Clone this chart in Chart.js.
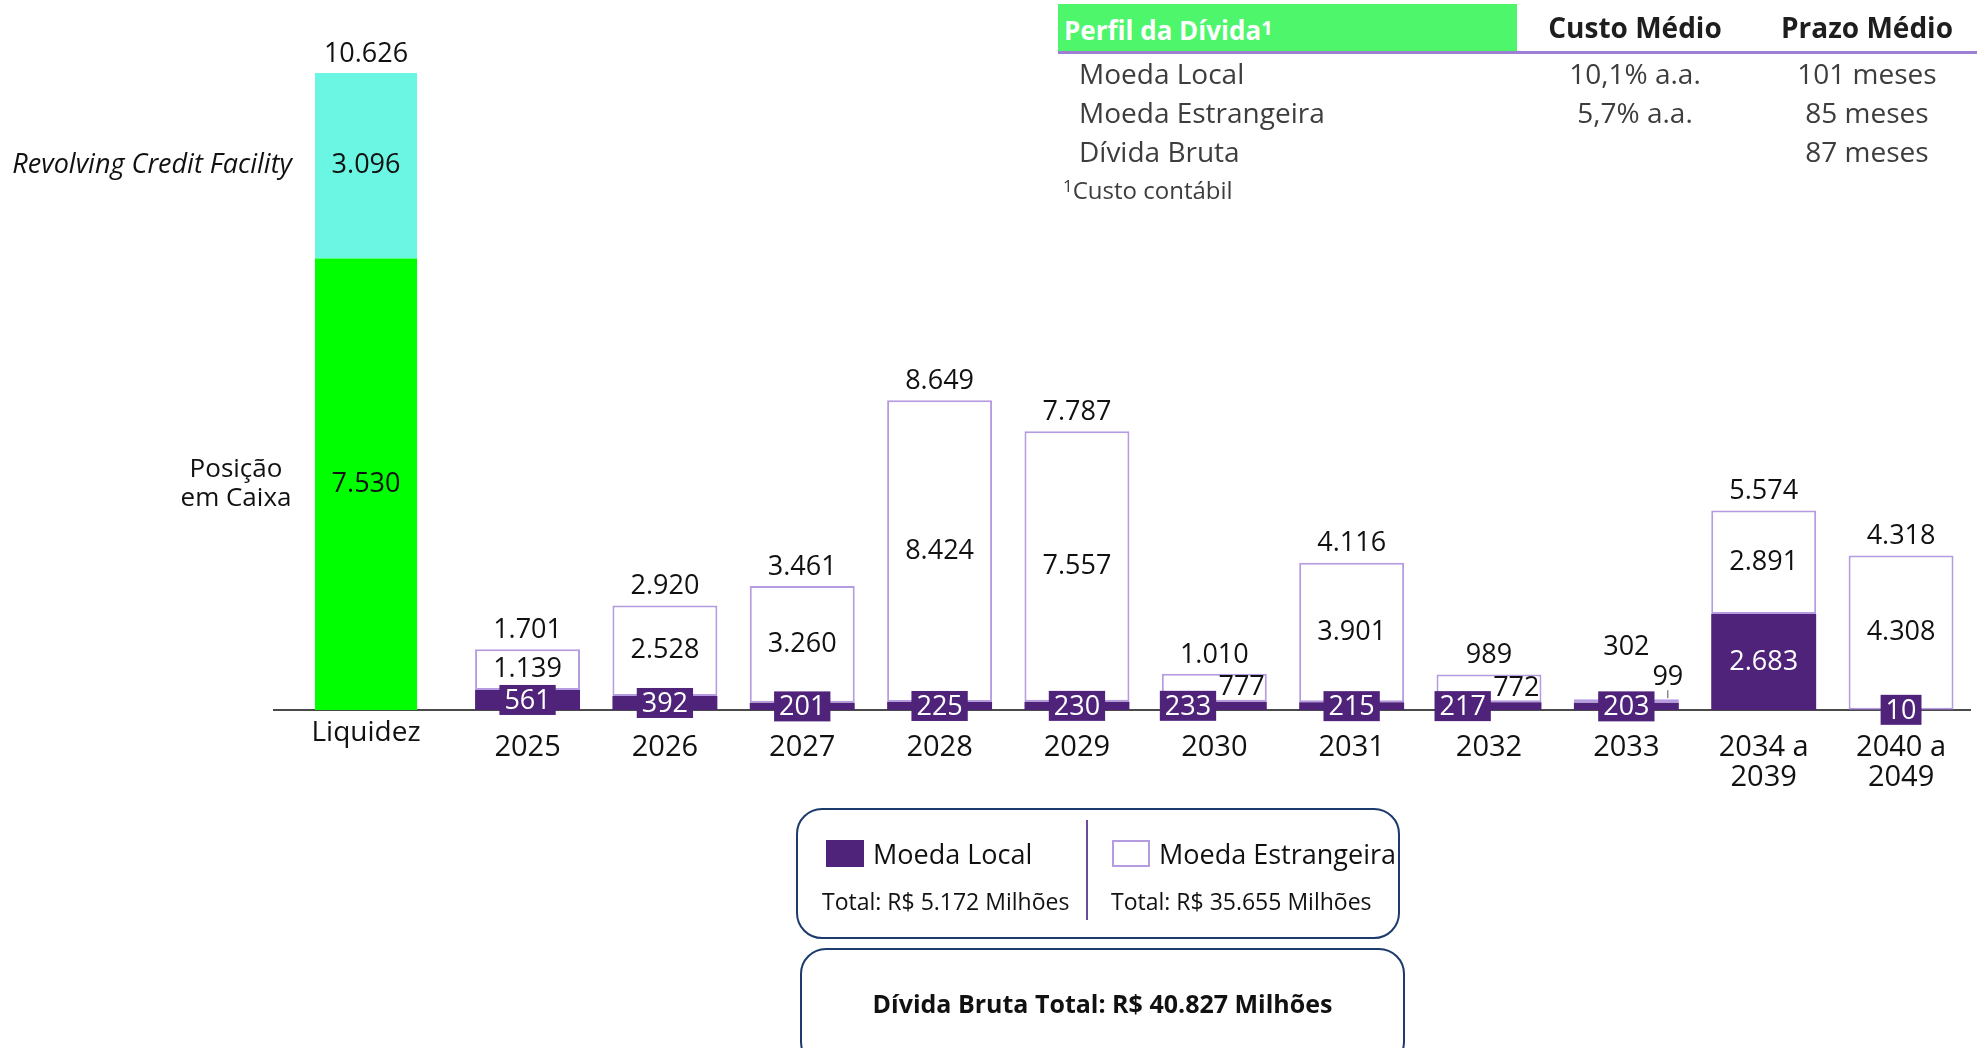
<!DOCTYPE html>
<html lang="pt-BR">
<head>
<meta charset="utf-8">
<title>Perfil da Dívida</title>
<script src="https://cdn.jsdelivr.net/npm/chart.js@4.4.1/dist/chart.umd.min.js"></script>
<style>
  html, body { margin: 0; padding: 0; background: #fff; }
  body { width: 1977px; height: 1048px; position: relative; overflow: hidden;
         font-family: "Open Sans", "Noto Sans", sans-serif; color: #111; }
  #chart { position: absolute; left: 0; top: 0; }
  .abs { position: absolute; white-space: nowrap; }
  .hdr { font-weight: 700; font-size: 28px; line-height: 47px; height: 47px; }
  .row { font-size: 28px; color: #3d3d3d; height: 38px; line-height: 38px; }
  .box { border: 2.5px solid #1c3a6c; border-radius: 26px; box-sizing: border-box; }
</style>
</head>
<body>
<canvas id="chart" width="1977" height="1048"></canvas>
<div id="overlay"></div>
<script>
// ---- data (R$ milhões) ----
const CATEGORY_LABELS = [["2025"], ["2026"], ["2027"], ["2028"], ["2029"], ["2030"],
  ["2031"], ["2032"], ["2033"], ["2034 a", "2039"], ["2040 a", "2049"]];
const LOCAL_CURRENCY   = [561, 392, 201, 225, 230, 233, 215, 217, 203, 2683, 10];
const FOREIGN_CURRENCY = [1139, 2528, 3260, 8424, 7557, 777, 3901, 772, 99, 2891, 4308];
const YEAR_TOTALS      = [1701, 2920, 3461, 8649, 7787, 1010, 4116, 989, 302, 5574, 4318];

const LIQUIDITY_LABEL = "Liquidez";
const CASH_POSITION = 7530;
const REVOLVING_CREDIT = 3096;
const LIQUIDITY_TOTAL = 10626;

const PROFILE_ROWS = ["Moeda Local", "Moeda Estrangeira", "Dívida Bruta"];
const AVG_COST = ["10,1% a.a.", "5,7% a.a.", ""];
const AVG_TERM = ["101 meses", "85 meses", "87 meses"];

const LOCAL_TOTAL = 5172;
const FOREIGN_TOTAL = 35655;
const GROSS_TOTAL = 40827;

// ---- look ----
const PURPLE = "#4f237a";
const LAVENDER = "#b59be0";
const GREEN = "#00ff00";
const CYAN = "#6af6e2";
const INK = "#111";
const VALUE_FONT = "27px 'Open Sans', 'Noto Sans', sans-serif";
const LIQ_X = -1.176; // liquidity column sits a bit further left than the year spacing

const fmt = v => String(v).replace(/\B(?=(\d{3})+(?!\d))/g, ".");

// ---- HTML table + legend boxes ----
(function buildOverlay() {
  const o = document.getElementById("overlay");
  const add = (html, css, cls) => {
    const d = document.createElement("div");
    d.className = "abs " + (cls || "");
    d.style.cssText = css;
    d.innerHTML = html;
    o.appendChild(d);
    return d;
  };
  add("Perfil da Dívida<span style='font-size:20px;vertical-align:5px'>1</span>",
      "left:1058px;top:4px;width:453px;padding-left:6px;background:#4df66b;color:#fff;font-size:26px;", "hdr");
  add("", "left:1058px;top:51px;width:919px;height:3px;background:#9d7fd3;");
  add("Custo Médio", "left:1515px;top:4px;width:240px;text-align:center;color:#1e1e1e;", "hdr");
  add("Prazo Médio", "left:1747px;top:4px;width:240px;text-align:center;color:#1e1e1e;", "hdr");
  PROFILE_ROWS.forEach((name, i) => {
    const top = 54 + i * 39;
    add(name, `left:1079px;top:${top}px;`, "row");
    add(AVG_COST[i], `left:1515px;top:${top}px;width:240px;text-align:center;`, "row");
    add(AVG_TERM[i], `left:1747px;top:${top}px;width:240px;text-align:center;`, "row");
  });
  add("<span style='font-size:17px;vertical-align:7px'>1</span>Custo contábil", "left:1063px;top:167px;font-size:24px;", "row");

  const leg = add("", "left:796px;top:808px;width:604px;height:131px;", "box");
  leg.innerHTML = `
    <div class="abs" style="left:28px;top:30px;width:38px;height:27px;background:${PURPLE}"></div>
    <div class="abs" style="left:75px;top:26px;font-size:27px;line-height:36px;">Moeda Local</div>
    <div class="abs" style="left:24px;top:76px;font-size:23px;line-height:30px;">Total: R$ ${fmt(LOCAL_TOTAL)} Milhões</div>
    <div class="abs" style="left:288px;top:10px;width:2px;height:100px;background:#6b4b9c"></div>
    <div class="abs" style="left:314px;top:30px;width:38px;height:27px;box-sizing:border-box;border:2px solid ${LAVENDER}"></div>
    <div class="abs" style="left:361px;top:26px;font-size:27px;line-height:36px;">Moeda Estrangeira</div>
    <div class="abs" style="left:313px;top:76px;font-size:23px;line-height:30px;">Total: R$ ${fmt(FOREIGN_TOTAL)} Milhões</div>`;
  const tot = add("", "left:800px;top:948px;width:605px;height:120px;", "box");
  tot.innerHTML = `<div class="abs" style="left:0;width:100%;top:35px;text-align:center;font-weight:700;font-size:25px;line-height:36px;">Dívida Bruta Total: R$ ${fmt(GROSS_TOTAL)} Milhões</div>`;
})();

// ---- value labels, side captions ----
const labelPlugin = {
  id: "barLabels",
  afterDatasetsDraw(chart) {
    const ctx = chart.ctx;
    const cash = chart.getDatasetMeta(0).data[0];
    const rcf = chart.getDatasetMeta(1).data[0];
    const local = chart.getDatasetMeta(2).data;
    const foreign = chart.getDatasetMeta(3).data;
    ctx.save();
    ctx.textAlign = "center";
    ctx.textBaseline = "middle";
    ctx.font = VALUE_FONT;
    ctx.fillStyle = INK;

    // liquidity column
    ctx.fillText(fmt(CASH_POSITION), cash.x, (cash.y + cash.base) / 2);
    ctx.fillText(fmt(REVOLVING_CREDIT), rcf.x, (rcf.y + rcf.base) / 2);
    ctx.fillText(fmt(LIQUIDITY_TOTAL), rcf.x, rcf.y - 19);
    ctx.font = "28px 'Open Sans', sans-serif";
    ctx.fillText(LIQUIDITY_LABEL, cash.x, cash.base + 23);
    const left = cash.x - cash.width / 2;
    ctx.font = "italic 27px 'Open Sans', sans-serif";
    ctx.textAlign = "right";
    ctx.fillText("Revolving Credit Facility", left - 23, (rcf.y + rcf.base) / 2);
    ctx.font = "26px 'Open Sans', sans-serif";
    ctx.textAlign = "center";
    const mid = (cash.y + cash.base) / 2;
    ctx.fillText("Posição", left - 79, mid - 15);
    ctx.fillText("em Caixa", left - 79, mid + 14);

    // debt maturity columns
    ctx.font = VALUE_FONT;
    const boxLabel = (text, x, cy, anchor) => {
      const w = ctx.measureText(text).width + 10;
      const bx = anchor === "left" ? x : x - w / 2;
      ctx.fillStyle = PURPLE;
      ctx.fillRect(bx, cy - 15, w, 30);
      ctx.fillStyle = "#fff";
      ctx.textAlign = "center";
      ctx.fillText(text, bx + w / 2, cy + 1);
    };
    local.forEach((l, i) => {
      const f = foreign[i];
      const lh = l.base - l.y;
      const fh = f.base - f.y;
      const barL = l.x - l.width / 2, barR = l.x + l.width / 2;
      const lmid = (l.y + l.base) / 2, fmid = (f.y + f.base) / 2;
      let totalY = f.y - 19;

      if (fh >= 35) {
        ctx.fillStyle = INK; ctx.textAlign = "center";
        ctx.fillText(fmt(FOREIGN_CURRENCY[i]), f.x, fmid);
      } else if (fh >= 15) {
        ctx.fillStyle = INK; ctx.textAlign = "right";
        ctx.fillText(fmt(FOREIGN_CURRENCY[i]), barR - 2, fmid);
      } else {
        // too thin: label above with a short leader
        const lx = barR - 11;
        ctx.strokeStyle = "#555"; ctx.lineWidth = 1;
        ctx.beginPath(); ctx.moveTo(lx, f.y - 1); ctx.lineTo(lx, f.y - 9); ctx.stroke();
        ctx.fillStyle = INK; ctx.textAlign = "center";
        ctx.fillText(fmt(FOREIGN_CURRENCY[i]), lx, f.y - 22);
        totalY = f.y - 52;
      }

      if (lh >= 40) {
        ctx.fillStyle = "#fff"; ctx.textAlign = "center";
        ctx.fillText(fmt(LOCAL_CURRENCY[i]), l.x, lmid);
      } else if (fh >= 15 && fh < 35) {
        boxLabel(fmt(LOCAL_CURRENCY[i]), barL - 2, lmid, "left");
      } else {
        boxLabel(fmt(LOCAL_CURRENCY[i]), l.x, lmid, "center");
      }

      ctx.fillStyle = INK; ctx.textAlign = "center";
      ctx.fillText(fmt(YEAR_TOTALS[i]), f.x, totalY);
    });
    ctx.restore();
  }
};

const yearX = CATEGORY_LABELS.map((_, i) => i);

new Chart(document.getElementById("chart"), {
  type: "bar",
  data: {
    datasets: [
      { label: "Posição em Caixa", data: [{ x: LIQ_X, y: CASH_POSITION }],
        backgroundColor: GREEN, yAxisID: "yLiq", stack: "liq", barPercentage: 0.743 },
      { label: "Revolving Credit Facility", data: [{ x: LIQ_X, y: REVOLVING_CREDIT }],
        backgroundColor: CYAN, yAxisID: "yLiq", stack: "liq", barPercentage: 0.743 },
      { label: "Moeda Local", data: LOCAL_CURRENCY.map((v, i) => ({ x: yearX[i], y: v })),
        backgroundColor: PURPLE, yAxisID: "yDebt", stack: "debt", barPercentage: 0.764 },
      { label: "Moeda Estrangeira", data: FOREIGN_CURRENCY.map((v, i) => ({ x: yearX[i], y: v })),
        backgroundColor: "#fff", borderColor: LAVENDER, borderWidth: 2, borderSkipped: false,
        yAxisID: "yDebt", stack: "debt", barPercentage: 0.764 },
    ],
  },
  options: {
    responsive: false,
    animation: false,
    events: [],
    grouped: false,
    categoryPercentage: 1,
    layout: { padding: { left: 274, right: 7, top: 0, bottom: 0 } },
    plugins: { legend: { display: false }, tooltip: { enabled: false } },
    scales: {
      x: {
        type: "linear", offset: false, min: -1.846, max: 10.502, stacked: true,
        grid: { display: false },
        border: { display: true, color: "#4a4a4a", width: 2 },
        afterBuildTicks: axis => { axis.ticks = yearX.map(v => ({ value: v })); },
        afterFit: axis => { axis.height = 338; },
        ticks: {
          autoSkip: false, maxRotation: 0, padding: 15, color: INK,
          font: { family: "'Open Sans', sans-serif", size: 29, lineHeight: 1.02 },
          callback: (v, i) => CATEGORY_LABELS[i],
        },
      },
      yLiq: { display: false, stacked: true, min: 0, max: 11843 },
      yDebt: { display: false, stacked: true, min: 0, max: 19830 },
    },
  },
  plugins: [labelPlugin],
});
</script>
</body>
</html>
